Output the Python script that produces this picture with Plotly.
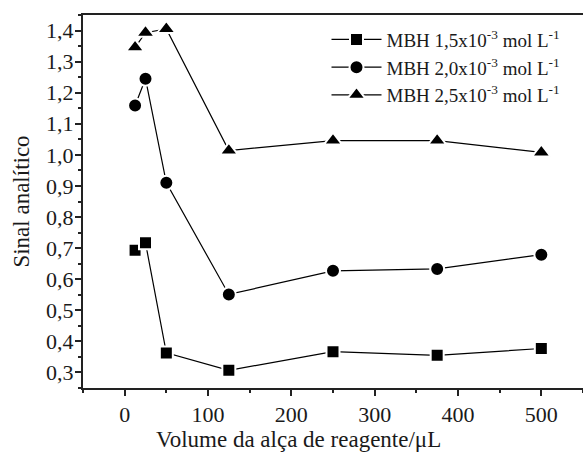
import plotly.graph_objects as go

volume = [12.5, 25, 50, 125, 250, 375, 500]
mbh_15 = [0.693, 0.717, 0.363, 0.307, 0.367, 0.355, 0.377]
mbh_20 = [1.159, 1.245, 0.910, 0.551, 0.627, 0.633, 0.679]
mbh_25 = [1.346, 1.393, 1.405, 1.014, 1.046, 1.046, 1.008]

names = [
    "MBH 1,5x10<sup>-3</sup> mol L<sup>-1</sup>",
    "MBH 2,0x10<sup>-3</sup> mol L<sup>-1</sup>",
    "MBH 2,5x10<sup>-3</sup> mol L<sup>-1</sup>",
]
symbols = ["square", "circle", "triangle-up"]
sizes = [13, 14, 16]

x_title = "Volume da alça de reagente/μL"
y_title = "Sinal analítico"

font_family = "Liberation Serif, Times New Roman, serif"

fig = go.Figure()
for ys, name, sym, sz in zip([mbh_15, mbh_20, mbh_25], names, symbols, sizes):
    fig.add_trace(go.Scatter(
        x=volume, y=ys, name=name, mode="lines+markers",
        line=dict(color="black", width=1.2),
        marker=dict(symbol=sym, size=sz, color="black",
                    line=dict(color="white", width=2)),
    ))

fig.update_layout(
    width=583, height=461,
    margin=dict(l=83, r=0, t=15, b=73),
    paper_bgcolor="white", plot_bgcolor="white",
    separators=", ",
    font=dict(family=font_family, size=22, color="#1a1a1a"),
    showlegend=True,
    legend=dict(
        x=0.487, y=0.985, xanchor="left", yanchor="top",
        bgcolor="rgba(0,0,0,0)", font=dict(size=19, family=font_family),
        tracegroupgap=0, itemwidth=50,
    ),
    xaxis=dict(
        range=[-50, 550], tick0=0, dtick=100, automargin=False,
        showline=True, linecolor="#222", linewidth=2, mirror=True,
        ticks="outside", ticklen=6, tickwidth=1.5, tickcolor="#222",
        tickfont=dict(size=22),
        minor=dict(dtick=50, ticks="outside", ticklen=3, tickwidth=1.5, tickcolor="#222"),
        showgrid=False, zeroline=False,
    ),
    yaxis=dict(
        range=[0.25, 1.45], tick0=0.3, dtick=0.1, tickformat=".1f", automargin=False,
        showline=True, linecolor="#222", linewidth=2,
        ticks="outside", ticklen=6, tickwidth=1.5, tickcolor="#222",
        tickfont=dict(size=22), ticklabelstandoff=-3,
        minor=dict(dtick=0.05, ticks="outside", ticklen=3, tickwidth=1.5, tickcolor="#222"),
        showgrid=False, zeroline=False,
        title=dict(text=y_title, standoff=10, font=dict(size=23)),
    ),
    annotations=[
        dict(text=x_title, xref="paper", yref="paper", x=0.43, y=-0.138,
             xanchor="center", yanchor="middle", showarrow=False,
             font=dict(size=23, family=font_family, color="#1a1a1a")),
    ],
)

fig.write_html(
    "out.html",
    config={"displayModeBar": False},
    post_script="document.body.style.margin='0px';document.body.style.overflow='hidden';",
)
